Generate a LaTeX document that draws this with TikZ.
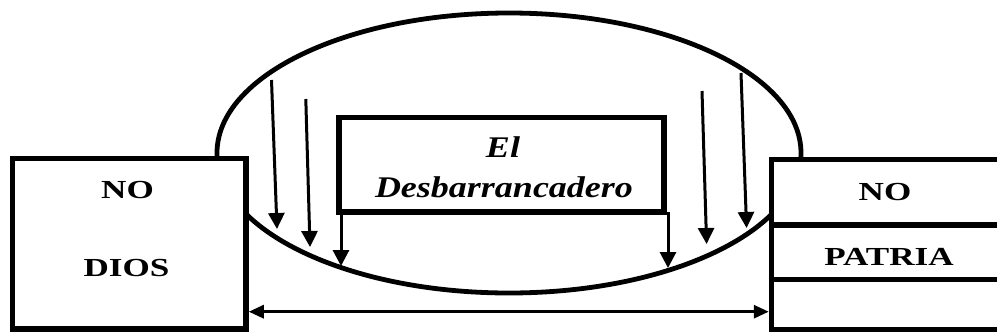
\documentclass[tikz,border=0pt]{standalone}
\usepackage{graphicx}
\usepackage{fontspec}
\setmainfont{Liberation Serif}
\usetikzlibrary{shapes.geometric,arrows.meta}
\newcommand{\boxtxt}[1]{{\fontsize{26}{30}\selectfont\bfseries\scalebox{1.35}[1]{#1}}}
\newcommand{\midtxt}[1]{{\fontsize{30}{34}\selectfont\bfseries\itshape\scalebox{1.2}[1]{#1}}}
\tikzset{
  heavybox/.style={draw=black, line width=5.5pt, fill=white, rectangle, inner sep=0pt},
  oval/.style={draw=black, line width=4.8pt, ellipse, inner sep=0pt},
  label/.style={inner sep=0pt, anchor=base},
  fallarrow/.style={draw=black, line width=3pt, -{Triangle[length=16pt,width=16pt]}},
  spanarrow/.style={draw=black, line width=3pt, {Triangle[length=15pt,width=13pt]}-{Triangle[length=15pt,width=13pt]}}
}
\begin{document}
\begin{tikzpicture}[x=1pt,y=-1pt]
\useasboundingbox (0,0) rectangle (997,333);
\clip (0,0) rectangle (997,333);
\fill[white] (0,0) rectangle (997,333);
% ellipse (behind boxes)
\node[oval, minimum width=584pt, minimum height=280pt] (oval) at (509,153) {};
% left box
\node[heavybox, minimum width=233.5pt, minimum height=170.5pt] (left) at (129.25,243.75) {};
\node[label] (no1) at (127.5,198) {\boxtxt{NO}};
\node[label] (dios) at (126.5,276) {\boxtxt{DIOS}};
% right box (runs off the page)
\node[heavybox, minimum width=260pt, minimum height=170pt] (right) at (901.5,244.5) {};
\coordinate (d1a) at (771.5,225);
\coordinate (d1b) at (1040,225);
\coordinate (d2a) at (771.5,279.7);
\coordinate (d2b) at (1040,279.7);
\draw[line width=5.5pt] (d1a) -- (d1b);
\draw[line width=5.5pt] (d2a) -- (d2b);
\node[label] (no2) at (885,200) {\boxtxt{NO}};
\node[label] (patria) at (889,265) {\boxtxt{PATRIA}};
% center box
\node[heavybox, minimum width=325pt, minimum height=94.5pt] (mid) at (501.5,164.75) {};
\node[label] (el) at (503,157) {\midtxt{El}};
\node[label] (desb) at (504,197) {\midtxt{Desbarrancadero}};
% falling arrows
\coordinate (a1s) at (271.5,80);  \coordinate (a1e) at (277,229);
\coordinate (a2s) at (305.8,99);  \coordinate (a2e) at (310,247);
\coordinate (a3s) at (341,212);   \coordinate (a3e) at (341,266);
\coordinate (a4s) at (668,212);   \coordinate (a4e) at (668,268);
\coordinate (a5s) at (702,91);    \coordinate (a5e) at (706.6,244);
\coordinate (a6s) at (741,73);    \coordinate (a6e) at (746.6,228);
\draw[fallarrow] (a1s) -- (a1e);
\draw[fallarrow] (a2s) -- (a2e);
\draw[fallarrow] (a3s) -- (a3e);
\draw[fallarrow] (a4s) -- (a4e);
\draw[fallarrow] (a5s) -- (a5e);
\draw[fallarrow] (a6s) -- (a6e);
% span arrow
\draw[spanarrow] (left.east |- 0,311.7) -- (right.west |- 0,311.7);
\end{tikzpicture}
\end{document}
